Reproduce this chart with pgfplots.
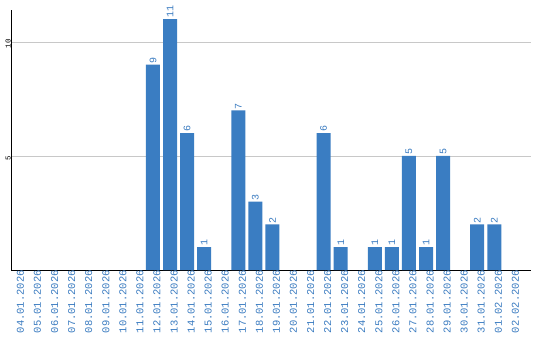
\documentclass[border=0pt]{standalone}
\usepackage{pgfplots}
\pgfplotsset{compat=1.18}
\usepackage{fontspec}
\setmainfont{Liberation Mono}
\definecolor{barblue}{HTML}{3A7DC2}
\definecolor{lblblue}{HTML}{3A7BC0}
\definecolor{gridgray}{HTML}{C8C8C8}
\begin{document}
\begin{tikzpicture}[x=1pt,y=1pt]
\path[use as bounding box] (0,0) rectangle (540,340);
\begin{axis}[
  at={(11pt,70pt)}, anchor=south west,
  width=520pt, height=260pt, scale only axis,
  xmin=-0.32, xmax=30.15, ymin=0, ymax=11.4,
  axis lines=left, axis line style={-, black, line width=1pt},
  /pgf/number format/assume math mode=true,
  ybar, bar width=14pt,
  major tick length=0pt,
  ytick={5,10},
  ymajorgrids, grid style={gridgray, line width=0.8pt},
  xtick={0,...,29},
  xticklabels={04.01.2026,05.01.2026,06.01.2026,07.01.2026,08.01.2026,09.01.2026,10.01.2026,11.01.2026,12.01.2026,13.01.2026,14.01.2026,15.01.2026,16.01.2026,17.01.2026,18.01.2026,19.01.2026,20.01.2026,21.01.2026,22.01.2026,23.01.2026,24.01.2026,25.01.2026,26.01.2026,27.01.2026,28.01.2026,29.01.2026,30.01.2026,31.01.2026,01.02.2026,02.02.2026},
  xticklabel style={rotate=90, anchor=east, text=lblblue, font=\fontsize{10.5}{10.5}\selectfont, inner sep=0pt, xshift=0pt, yshift=-4pt},
  yticklabel style={rotate=90, anchor=south, text=black, font=\fontsize{7.5}{7.5}\selectfont, inner sep=0pt, xshift=-2pt},
  nodes near coords,
  every node near coord/.append style={rotate=90, anchor=west, text=lblblue, font=\fontsize{10}{10}\selectfont, inner sep=1pt},
]
\addplot[fill=barblue, draw=none] coordinates {
 (8,9) (9,11) (10,6) (11,1) (13,7) (14,3) (15,2) (18,6) (19,1)
 (21,1) (22,1) (23,5) (24,1) (25,5) (27,2) (28,2)
};
\end{axis}
\end{tikzpicture}
\end{document}
